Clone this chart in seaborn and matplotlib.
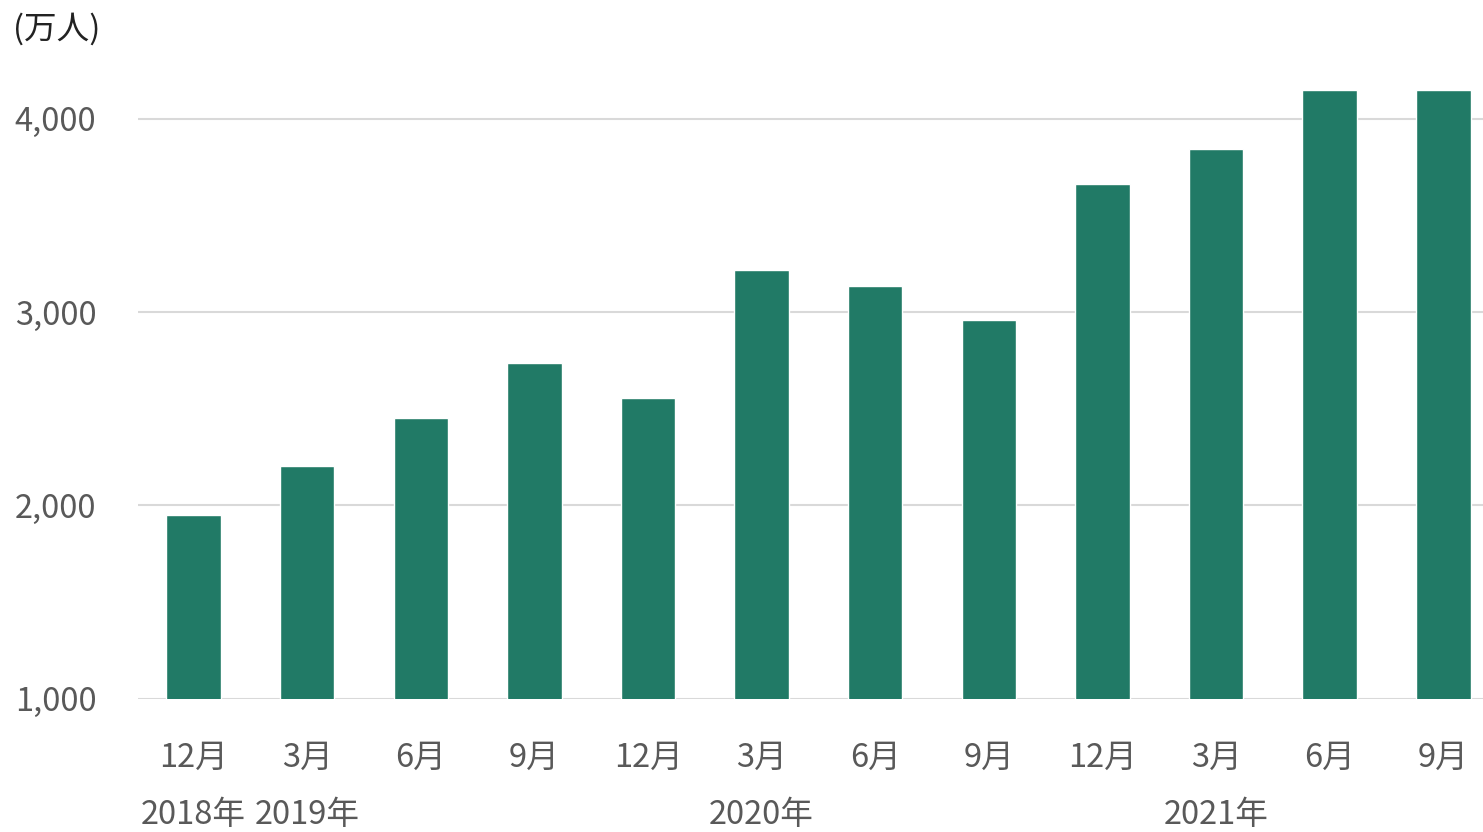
import pandas as pd
import numpy as np
import seaborn as sns
import matplotlib.pyplot as plt
import matplotlib.transforms as mtransforms

# ------------------ Data ------------------
months = ["12月", "3月", "6月", "9月", "12月", "3月", "6月", "9月", "12月", "3月", "6月", "9月"]
users = [1950, 2205, 2450, 2735, 2555, 3215, 3135, 2960, 3660, 3845, 4150, 4150]
year_labels = ["2018年", "2019年", "2020年", "2021年"]
year_pos = [0, 1, 5, 9]
yticks = [1000, 2000, 3000, 4000]

df = pd.DataFrame({"pos": [str(i) for i in range(len(months))], "users": users})

# ------------------ Style ------------------
sns.set_theme(style="white")
plt.rcParams["font.family"] = ["Noto Sans CJK JP", "DejaVu Sans"]

fig = plt.figure(figsize=(14.83, 8.32), dpi=100)
ax = fig.add_axes([0.093, 0.16, 0.907, 0.744])

sns.barplot(data=df, x="pos", y="users", color="#217a66", saturation=1,
            width=0.48, ax=ax, zorder=3)

ax.set_ylim(1000, 4200)
ax.set_xlim(-0.49, 11.35)
ax.set_yticks(yticks)
ax.set_yticklabels([f"{v:,}" for v in yticks])
ax.set_xticks(range(len(months)))
ax.set_xticklabels(months)
ax.grid(axis="y", color="#d9d9d9", linewidth=1.5, zorder=0)
ax.set_xlabel("")
ax.set_ylabel("")
for s in ax.spines.values():
    s.set_visible(False)

fs = 23.5
ax.tick_params(axis="x", length=0, pad=31, labelsize=fs, labelcolor="#595959")
ax.tick_params(axis="y", length=0, pad=30, labelsize=fs, labelcolor="#595959")

# year labels under the months
trans = mtransforms.blended_transform_factory(ax.transData, ax.transAxes)
for p, lab in zip(year_pos, year_labels):
    ax.text(p, -0.188, lab, transform=trans, ha="center", va="center",
            fontsize=fs, color="#595959")

# unit label
fig.text(0.009, 0.965, "(万人)", ha="left", va="center", fontsize=fs, color="#222222")

fig.savefig("out.png", dpi=100)
